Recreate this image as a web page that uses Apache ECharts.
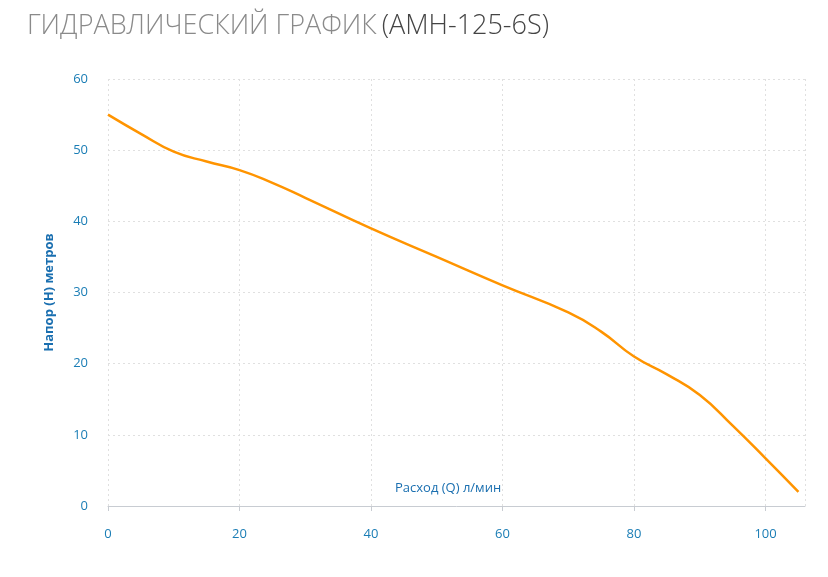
<!DOCTYPE html><html><head><meta charset="utf-8"><script src="https://cdn.jsdelivr.net/npm/echarts@6/dist/echarts.min.js"></script></head><body style="margin:0"><div id="c" style="width:828px;height:577px"></div><script>
const flow=[0,5,10,15,20,25,30,40,50,60,70,75,80,85,90,95,100,105];
const head=[55,52.3,49.8,48.4,47.2,45.4,43.3,39,35,31,27.2,24.5,21,18.5,15.6,11.3,6.7,2];
const xName='Расход (Q) л/мин';
const chart=echarts.init(document.getElementById('c'));
chart.setOption({
title:{text:'{a|ГИДРАВЛИЧЕСКИЙ ГРАФИК} {b|(AMH-125-6S)}',left:22,top:8,textStyle:{rich:{a:{fontSize:27,color:'#8a8a8a',fontFamily:'Open Sans',fontWeight:300},b:{fontSize:27,color:'#444',fontFamily:'Open Sans',fontWeight:300}}}},
grid:{left:108,right:23,top:79,bottom:71},
graphic:[{type:'text',left:395,top:482,style:{text:xName,fill:'#1a6fb0',font:'13px "Open Sans"'}}],
xAxis:{type:'value',min:0,max:106,interval:20,axisLine:{lineStyle:{color:'#c8ccd2'}},axisTick:{show:true,lineStyle:{color:'#c8ccd2'}},axisLabel:{color:'#1a7db5',fontSize:13,margin:22,showMaxLabel:false,fontFamily:'Open Sans'},splitLine:{show:true,lineStyle:{type:[2,3],color:'#e0e0e0'}}},
yAxis:{type:'value',min:0,max:60,interval:10,name:'Напор (H) метров',nameLocation:'middle',nameGap:52,nameTextStyle:{color:'#1a6fb0',fontSize:13,fontWeight:'bold',fontFamily:'Open Sans'},axisLine:{show:false},axisTick:{show:false},axisLabel:{color:'#1a7db5',fontSize:13,margin:20,fontFamily:'Open Sans'},splitLine:{lineStyle:{type:[2,3],color:'#e0e0e0'}}},
series:[{type:'line',smooth:true,symbol:'none',data:flow.map((x,i)=>[x,head[i]]),lineStyle:{color:'#ff9400',width:2.5}}]
});
</script></body></html>
